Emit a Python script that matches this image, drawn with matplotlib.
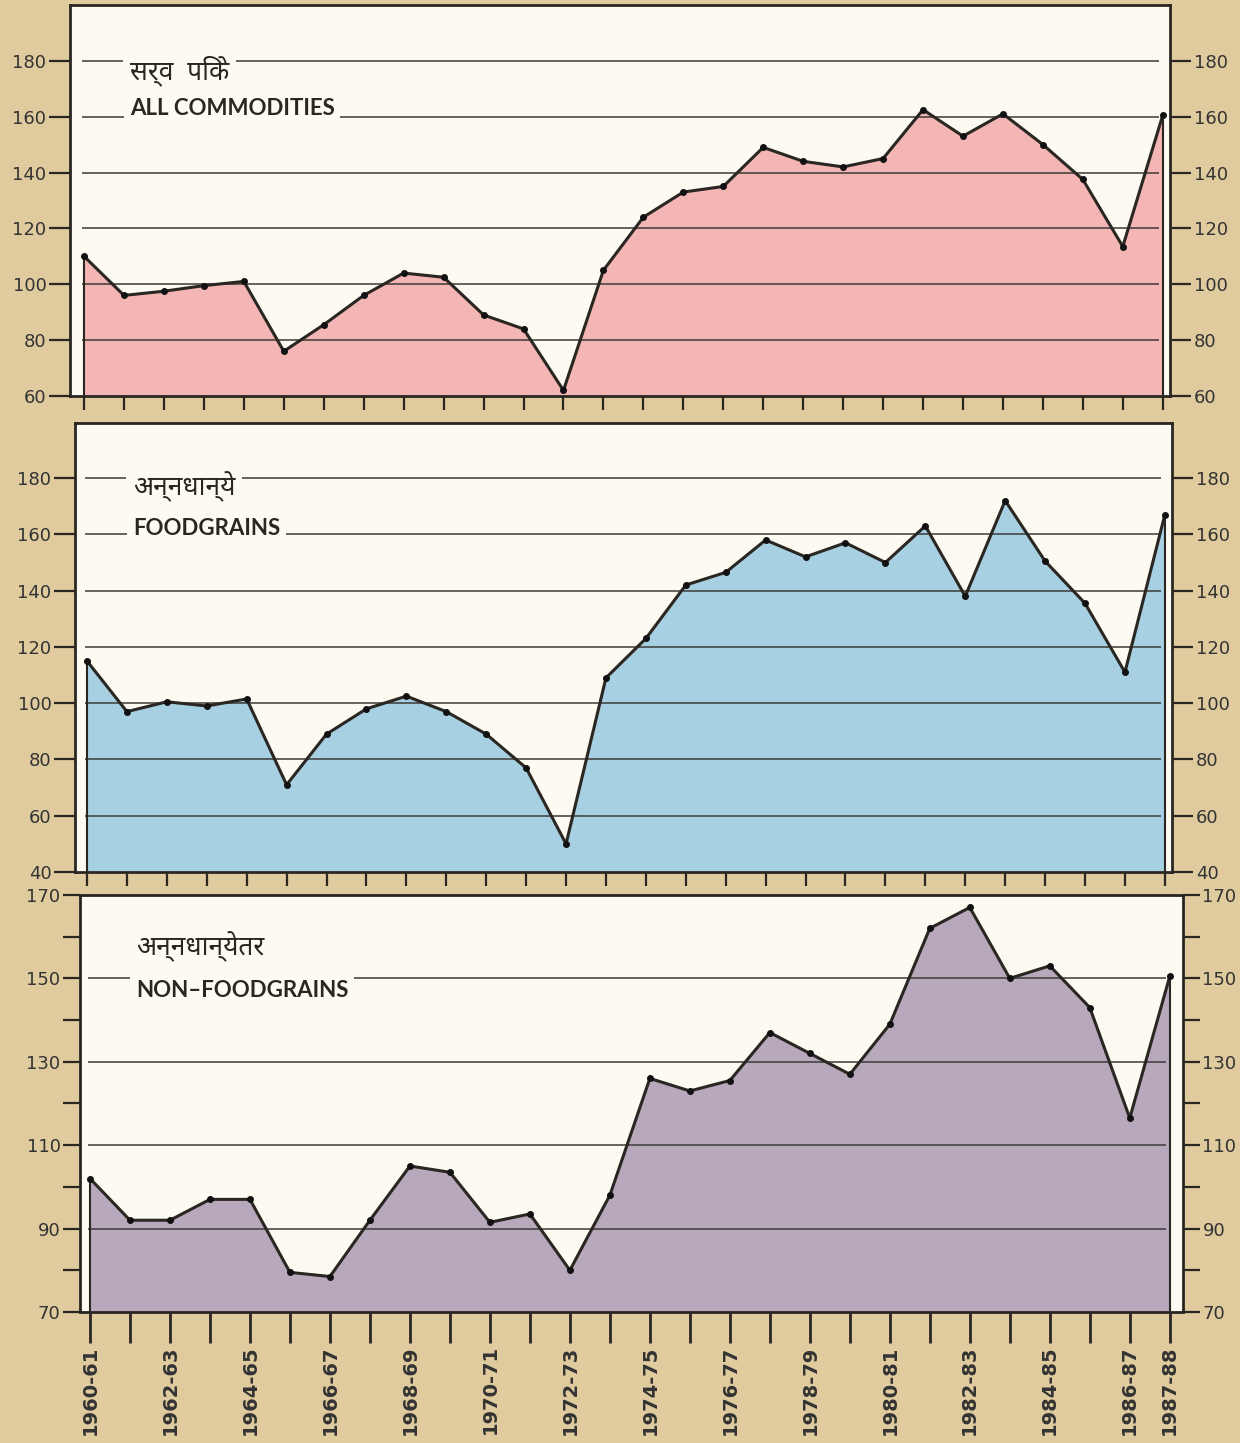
import matplotlib
matplotlib.use("Agg")
import matplotlib.pyplot as plt
import numpy as np

# Index numbers 1960-61 .. 1987-88
years = [f"{y}-{str(y + 1)[-2:]}" for y in range(1960, 1988)]

all_commodities = [110, 96, 97.5, 99.5, 101, 76, 85.5, 96, 104, 102.5,
                   89, 84, 62, 105, 124, 133, 135, 149, 144, 142,
                   145, 162.5, 153, 161, 150, 137.5, 113.5, 160.5]
foodgrains = [115, 97, 100.5, 99, 101.5, 71, 89, 98, 102.5, 97,
              89, 77, 50, 109, 123, 142, 146.5, 158, 152, 157,
              150, 163, 138, 172, 150.5, 135.5, 111, 167]
non_foodgrains = [102, 92, 92, 97, 97, 79.5, 78.5, 92, 105, 103.5,
                  91.5, 93.5, 80, 98, 126, 123, 125.5, 137, 132, 127,
                  139, 162, 167, 150, 153, 143, 116.5, 150.5]

titles_hi = ["सर्व  पिके", "अन्नधान्ये", "अन्नधान्येतर"]
titles_en = ["ALL COMMODITIES", "FOODGRAINS", "NON\u2013FOODGRAINS"]

BG = "#dfcb9e"
PANEL = "#fdfbf1"
INK = "#2a2622"
fills = ["#f3b6b4", "#a7d0e3", "#b8a8bc"]

plt.rcParams["font.family"] = ["DejaVu Sans", "Noto Sans Devanagari"]
HI_FONT = ["Noto Sans Devanagari", "DejaVu Sans"]

fig = plt.figure(figsize=(12.4, 14.43), dpi=100, facecolor=BG)

# (rect, xlim, ylim, major ticks, minor ticks, title y positions, tick length)
panels = [
    ([0.0565, 0.7256, 0.887, 0.271], (-0.35, 27.18), (60, 200),
     [60, 80, 100, 120, 140, 160, 180], [], (176.5, 163), 15),
    ([0.0605, 0.3957, 0.8847, 0.3112], (-0.3, 27.18), (40, 199.6),
     [40, 60, 80, 100, 120, 140, 160, 180], [], (177, 162), 15),
    ([0.0645, 0.0908, 0.8895, 0.289], (-0.25, 27.33), (70, 170),
     [70, 90, 110, 130, 150, 170], [80, 100, 120, 140, 160], (157.5, 147), 12),
]
series = [all_commodities, foodgrains, non_foodgrains]

x = np.arange(len(years))
for i, (rect, xl, yl, major, minor, ty, tlen) in enumerate(panels):
    ax = fig.add_axes(rect)
    ax.set_facecolor(PANEL)
    vals = series[i]

    ax.fill_between(x, vals, yl[0], color=fills[i], lw=0, zorder=1)
    ax.vlines([x[0], x[-1]], yl[0], [vals[0], vals[-1]], color=INK, lw=1.5, zorder=3)

    grid = [g for g in major if yl[0] < g < yl[1] - 1]
    ax.hlines(grid, -0.05, 26.9, color="#3c3a38", lw=1.1, zorder=2)

    ax.plot(x, vals, color=INK, lw=2.2, zorder=4, solid_joinstyle="round")
    ax.plot(x, vals, "o", color="#111111", ms=4, zorder=5)

    ax.text(1.15, ty[0], titles_hi[i], fontsize=19, color=INK, va="center",
            family=HI_FONT,
            bbox=dict(facecolor=PANEL, edgecolor="none", pad=5), zorder=6)
    ax.text(1.15, ty[1], titles_en[i], fontsize=16, fontweight="bold",
            family=["Lato", "DejaVu Sans"], color=INK, va="center",
            bbox=dict(facecolor=PANEL, edgecolor="none", pad=4), zorder=6)

    ax.set_xlim(*xl)
    ax.set_ylim(*yl)
    ax.set_yticks(major)
    ax.set_yticks(minor, minor=True)
    ax.tick_params(axis="y", which="both", left=True, right=True,
                   labelleft=True, labelright=True, direction="out",
                   length=tlen, width=1.6, color=INK, labelsize=13,
                   labelcolor="#333333", pad=2)

    for sp in ax.spines.values():
        sp.set_color(INK)
        sp.set_linewidth(2)

    ax.set_xticks(x)
    if i < 2:
        ax.tick_params(axis="x", direction="out", length=10, width=1.6,
                       color=INK, labelbottom=False)
    else:
        shown = [k for k in range(len(years)) if k % 2 == 0 or k == len(years) - 1]
        ax.set_xticklabels([years[k] if k in shown else "" for k in x],
                           rotation=90, fontsize=14, fontweight="bold",
                           color="#333333")
        ax.tick_params(axis="x", direction="out", length=22, width=2,
                       color=INK, pad=2)

fig.savefig("out.png", dpi=100, facecolor=BG)
